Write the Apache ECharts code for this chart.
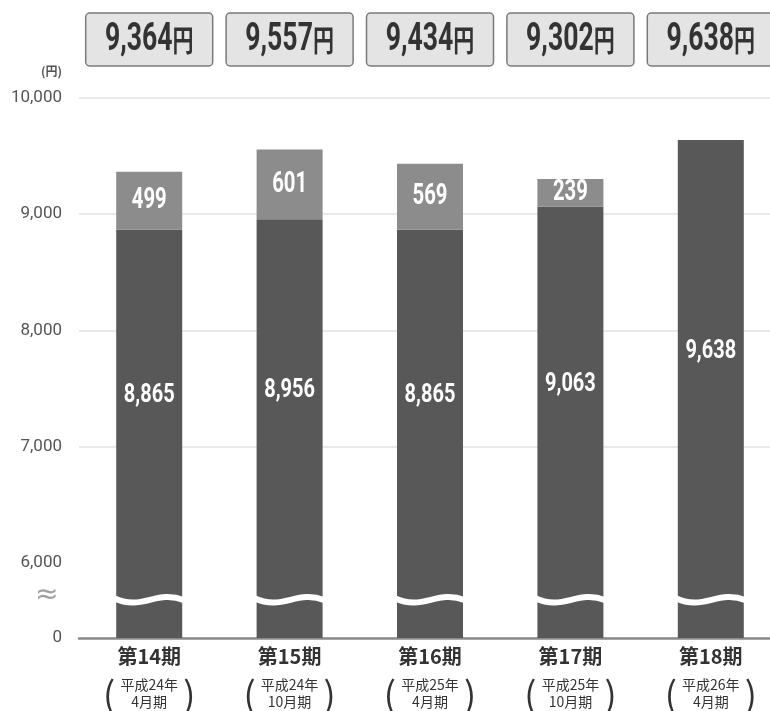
<!DOCTYPE html>
<html>
<head>
<meta charset="utf-8">
<script src="https://cdn.jsdelivr.net/npm/echarts@6/dist/echarts.min.js"></script>
<style>
  html, body { margin: 0; padding: 0; background: #fff; }
  #main { width: 770px; height: 711px; }
</style>
</head>
<body>
<div id="main"></div>
<script>
  // 期ごとのデータ
  var periods = ['第14期', '第15期', '第16期', '第17期', '第18期']
  var eraYears = ['平成24年', '平成24年', '平成25年', '平成25年', '平成26年']
  var months = ['4月期', '10月期', '4月期', '10月期', '4月期']
  var baseValues = [8865, 8956, 8865, 9063, 9638]
  var extraValues = [499, 601, 569, 239, null]
  var totals = [9364, 9557, 9434, 9302, 9638]
  var breakFrom = 0
  var breakTo = 6000
  var waveAt = 3000

  var num = "'Roboto', 'Noto Sans CJK JP', sans-serif"
  var jp = "'Noto Sans CJK JP', sans-serif"
  var fmt = function (v) { return Number(v).toLocaleString('en-US') }

  var myChart = echarts.init(document.getElementById('main'))

  // 合計の枠と棒の中の数字（細身に見せるため横を縮める）
  function renderLabels (params, api) {
    var i = api.value(0)
    var base = api.value(1)
    var extra = api.value(2)
    var total = api.value(3)
    var cx = api.coord([i, total])[0]
    var top = params.coordSys.y
    var children = [
      {
        type: 'rect',
        shape: { x: cx - 63.5, y: top - 85, width: 127, height: 53, r: 4 },
        style: { fill: '#e4e4e4', stroke: '#7a7a7a', lineWidth: 1.5 }
      },
      {
        type: 'text',
        x: cx,
        y: top - 58,
        scaleX: 0.7,
        style: {
          text: '{n|' + fmt(total) + '}{u|円}',
          align: 'center',
          verticalAlign: 'middle',
          rich: {
            n: { fontFamily: num, fontSize: 38, fontWeight: 'bold', fill: '#333' },
            u: { fontFamily: jp, fontSize: 30, fontWeight: 'bold', fill: '#333' }
          }
        }
      },
      {
        type: 'text',
        x: cx,
        y: api.coord([i, (base + breakTo) / 2])[1],
        scaleX: 0.8,
        style: {
          text: fmt(base),
          align: 'center',
          verticalAlign: 'middle',
          fontFamily: num,
          fontSize: 25,
          fontWeight: 'bold',
          fill: '#fff'
        }
      }
    ]
    if (extra > 0) {
      children.push({
        type: 'text',
        x: cx,
        y: api.coord([i, base + extra / 2])[1],
        scaleX: 0.7,
        style: {
          text: fmt(extra),
          align: 'center',
          verticalAlign: 'middle',
          fontFamily: num,
          fontSize: 29,
          fontWeight: 'bold',
          fill: '#fff'
        }
      })
    }
    return { type: 'group', children: children }
  }

  var option = {
    animation: false,
    grid: {
      left: 79,
      right: -11,
      top: 98,
      bottom: 73,
      outerBoundsMode: 'none'
    },
    graphic: [
      {
        type: 'text',
        left: 35,
        top: 582,
        style: { text: '≈', fontSize: 28, fill: '#a0a0a0', fontFamily: 'DejaVu Sans' }
      }
    ],
    xAxis: [
      {
        type: 'category',
        data: periods,
        position: 'bottom',
        axisLine: { lineStyle: { color: '#8a8a8a', width: 2.5 } },
        axisTick: { show: false },
        axisLabel: { interval: 0, margin: 8, fontSize: 20, fontWeight: 'bold', color: '#333', fontFamily: jp }
      },
      {
        type: 'category',
        data: periods,
        position: 'bottom',
        axisLine: { show: false },
        axisTick: { show: false },
        axisLabel: {
          interval: 0,
          margin: 38,
          fontSize: 14,
          lineHeight: 17,
          color: '#333',
          fontFamily: jp,
          formatter: function (v, i) { return eraYears[i] + '\n' + months[i] }
        }
      },
      {
        type: 'category',
        data: periods,
        position: 'bottom',
        axisLine: { show: false },
        axisTick: { show: false },
        axisLabel: {
          interval: 0,
          margin: 35,
          formatter: function () { return '{p|(}{s|}{p|)}' },
          rich: {
            p: { fontSize: 36, color: '#333', fontFamily: jp, lineHeight: 42 },
            s: { width: 68 }
          }
        }
      }
    ],
    yAxis: {
      type: 'value',
      min: 0,
      max: 10000,
      interval: 1000,
      breaks: [{ start: breakFrom, end: breakTo, gap: 650 }],
      breakArea: { show: false },
      name: '(円)',
      nameLocation: 'end',
      nameGap: 21,
      nameTextStyle: { align: 'right', padding: [0, 17, 0, 0], fontSize: 12, fontWeight: 'bold', color: '#555', fontFamily: jp },
      axisLine: { show: false },
      axisTick: { show: false },
      axisLabel: { margin: 17, fontSize: 17, color: '#555', fontFamily: num, formatter: fmt },
      splitLine: { lineStyle: { color: '#e2e2e2', width: 1.5 } }
    },
    series: [
      {
        name: 'lower',
        type: 'bar',
        stack: 'total',
        barWidth: 66,
        itemStyle: { color: '#585858' },
        data: baseValues
      },
      {
        name: 'upper',
        type: 'bar',
        stack: 'total',
        barWidth: 66,
        itemStyle: { color: '#8c8c8c' },
        data: extraValues
      },
      {
        // 省略記号の波線
        name: 'wave',
        type: 'custom',
        z: 10,
        renderItem: function (params, api) {
          var pt = api.coord([api.value(0), api.value(1)])
          var w = 70
          var x0 = pt[0] - w / 2
          var y = pt[1]
          return {
            type: 'bezierCurve',
            shape: {
              x1: x0, y1: y - 2,
              x2: x0 + w, y2: y,
              cpx1: x0 + w * 0.4, cpy1: y + 11,
              cpx2: x0 + w * 0.6, cpy2: y - 11
            },
            style: { stroke: '#fff', lineWidth: 6, fill: null }
          }
        },
        data: periods.map(function (c, i) { return [i, waveAt] })
      },
      {
        name: 'labels',
        type: 'custom',
        z: 20,
        clip: false,
        renderItem: renderLabels,
        encode: { x: 0, y: 3 },
        data: periods.map(function (c, i) {
          return [i, baseValues[i], extraValues[i] || 0, totals[i]]
        })
      }
    ]
  }
  myChart.setOption(option)
</script>
</body>
</html>
